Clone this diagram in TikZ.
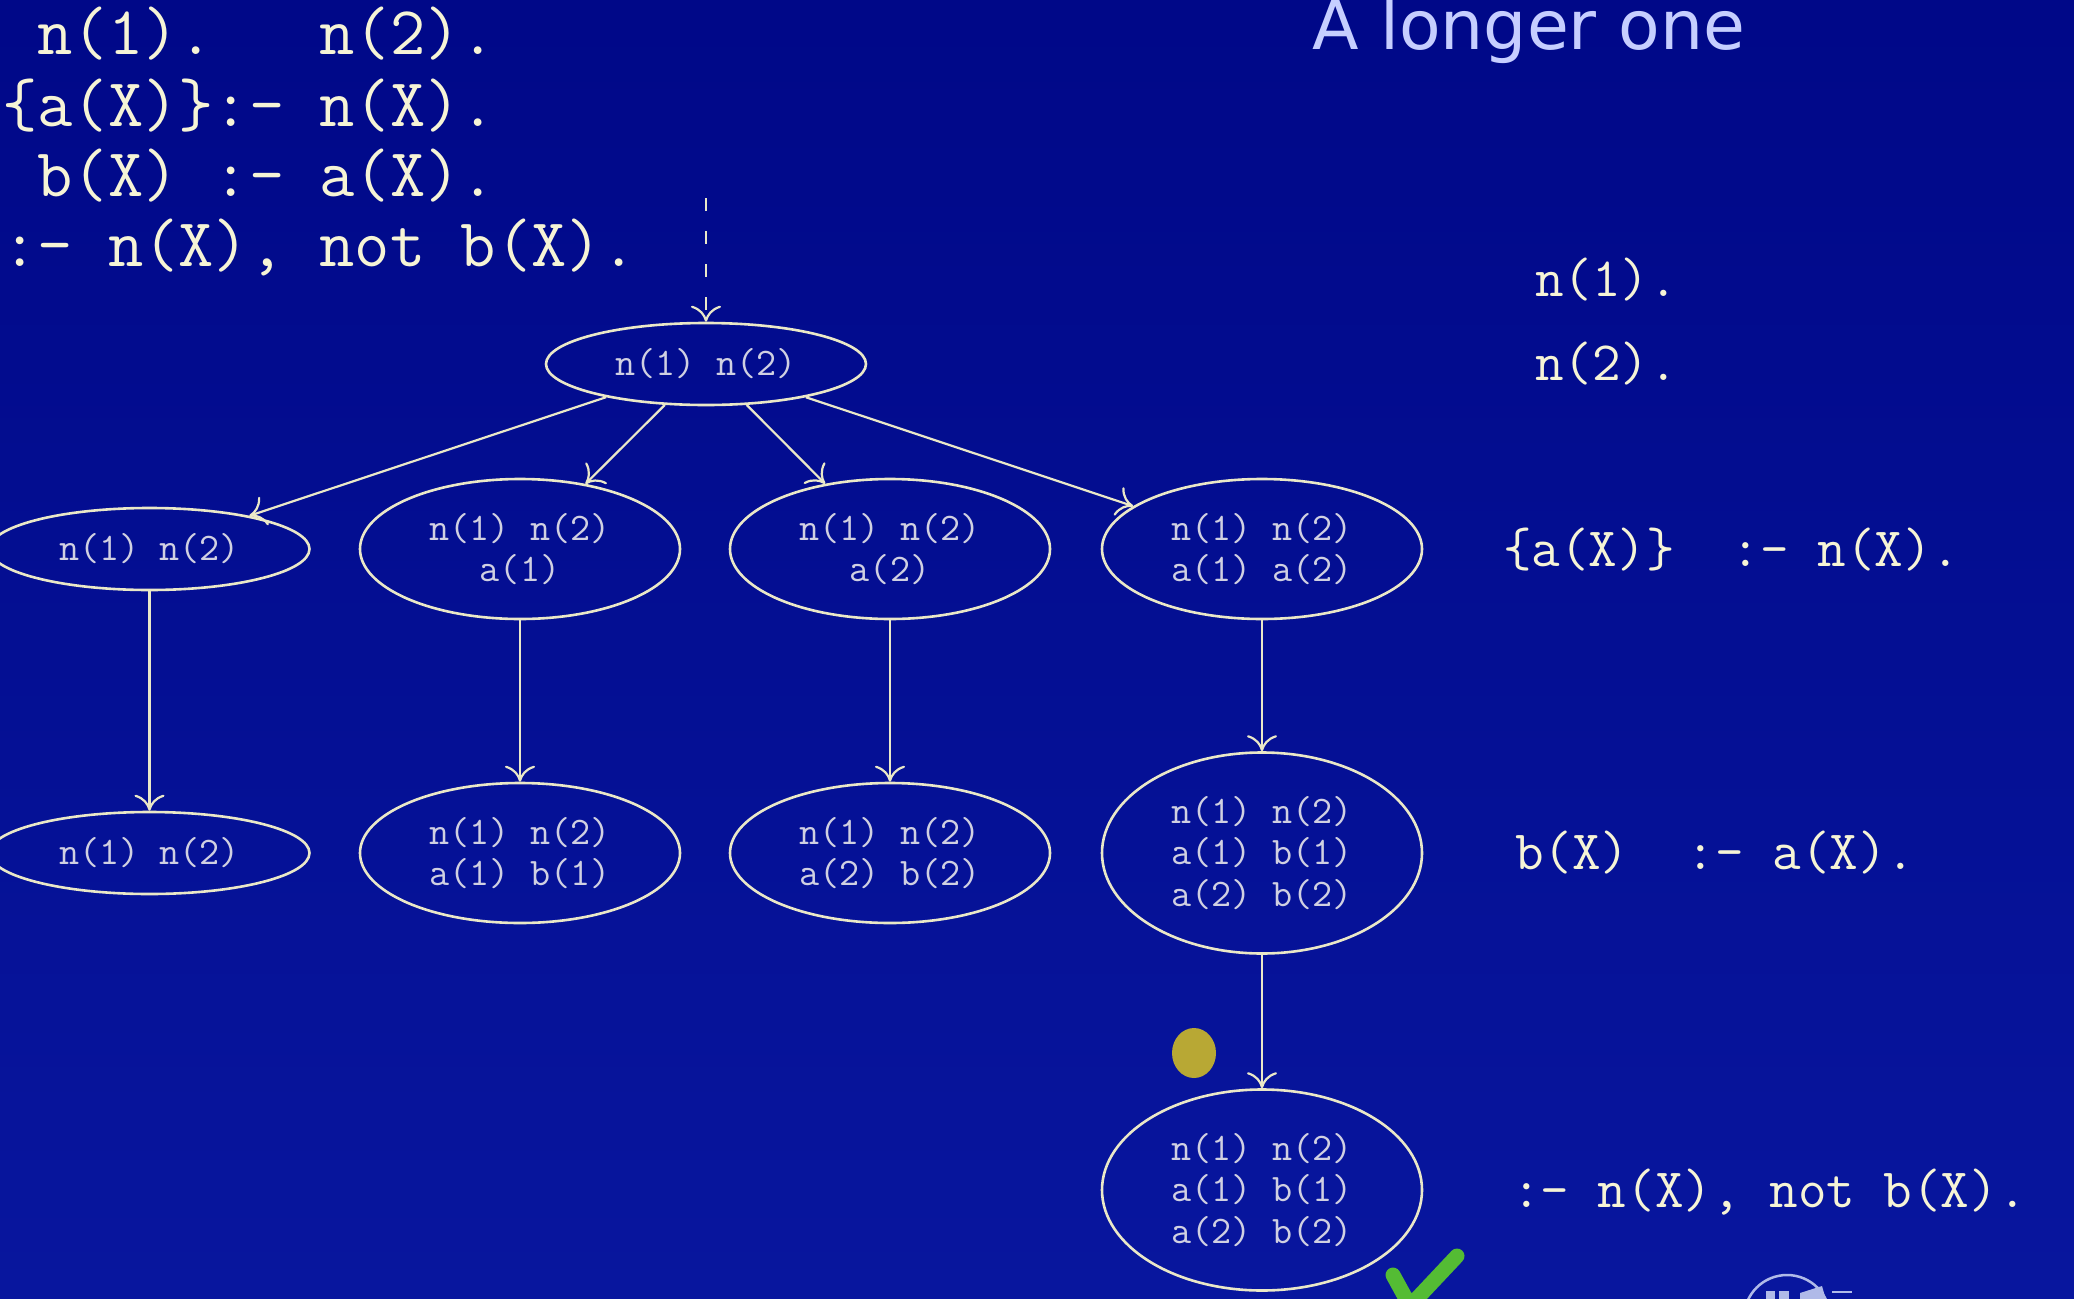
\documentclass[tikz,border=0pt]{standalone}
\usepackage{fontspec}
\newfontfamily\titlefont{DejaVu Sans}
\usetikzlibrary{shapes.geometric,arrows.meta}

\definecolor{bgtop}{RGB}{0,8,136}
\definecolor{bgbot}{RGB}{8,22,158}
\definecolor{cream}{RGB}{246,244,214}
\definecolor{nodetxt}{RGB}{208,208,226}
\definecolor{edgecol}{RGB}{234,232,200}
\definecolor{titlecol}{RGB}{198,206,255}
\definecolor{dotcol}{RGB}{184,168,52}
\definecolor{tickcol}{RGB}{84,188,52}
\definecolor{logocol}{RGB}{176,186,232}

\begin{document}
\begin{tikzpicture}[x=1pt,y=-1pt,
  state/.style={ellipse, draw=edgecol, line width=2.6pt, minimum width=320pt,
    inner sep=0pt, text=nodetxt, align=center,
    font=\ttfamily\fontsize{39}{41.7}\selectfont},
  one/.style={state, minimum height=82pt},
  two/.style={state, minimum height=140pt},
  three/.style={state, minimum height=201pt},
  link/.style={draw=edgecol, line width=2.2pt,
    -{Computer Modern Rightarrow[length=16pt,width=30pt]}},
  rule/.style={anchor=base west, inner sep=0pt, text=cream,
    font=\ttfamily\fontsize{68.5}{68.5}\selectfont},
  side/.style={anchor=base west, inner sep=0pt, text=cream,
    font=\ttfamily\fontsize{55.5}{55.5}\selectfont},
]
% canvas
\shade[top color=bgtop, bottom color=bgbot] (0,0) rectangle (2074,1298);
\useasboundingbox (0,0) rectangle (2074,1298);
\clip (0,0) rectangle (2074,1298);

% title
\node[anchor=base west, inner sep=0pt, text=titlecol,
      font=\titlefont\fontsize{68}{68}\selectfont] (title) at (1312,49) {A longer one};

% program, top left
\node[rule] (p1) at (2,55)  {~n(1).~~~n(2).};
\node[rule] (p2) at (2,126) {\{a(X)\}:-~n(X).};
\node[rule] (p3) at (2,196) {~b(X)~:-~a(X).};
\node[rule] (p4) at (2,266) {:-~n(X),~not~b(X).};

% program, one rule per level on the right
\node[side] (r1) at (1535,296)  {n(1).};
\node[side] (r2) at (1535,380)  {n(2).};
\node[side] (r3) at (1503,566)  {\{a(X)\}~~:-~n(X).};
\node[side] (r4) at (1515,869)  {b(X)~~:-~a(X).};
\node[side] (r5) at (1512,1207) {:-~n(X),~not~b(X).};

% search tree
\coordinate (entry) at (706,198);
\node[one] (root) at (706,364) {n(1) n(2)};

\node[one]   (a1) at (149.5,549) {n(1) n(2)};
\node[two]   (b1) at (520,549)   {n(1) n(2)\\a(1)};
\node[two]   (c1) at (890,549)   {n(1) n(2)\\a(2)};
\node[two]   (d1) at (1262,549)  {n(1) n(2)\\a(1) a(2)};

\node[one]   (a2) at (149.5,853) {n(1) n(2)};
\node[two]   (b2) at (520,853)   {n(1) n(2)\\a(1) b(1)};
\node[two]   (c2) at (890,853)   {n(1) n(2)\\a(2) b(2)};
\node[three] (d2) at (1262,853)  {n(1) n(2)\\a(1) b(1)\\a(2) b(2)};

\node[three] (d3) at (1262,1190) {n(1) n(2)\\a(1) b(1)\\a(2) b(2)};

\draw[link, dash pattern=on 13pt off 20pt] (entry) -- (root);
\draw[link] (root) -- (a1);
\draw[link] (root) -- (b1);
\draw[link] (root) -- (c1);
\draw[link] (root) -- (d1);
\draw[link] (a1) -- (a2);
\draw[link] (b1) -- (b2);
\draw[link] (c1) -- (c2);
\draw[link] (d1) -- (d2);
\draw[link] (d2) -- (d3);

% pointer highlight
\fill[dotcol] (1194,1053) ellipse [x radius=22, y radius=25];

% tick mark
\draw[tickcol, line width=15pt, line cap=round, line join=round]
  (1393,1275) -- (1410,1306) -- (1457,1256);

% corner logo
\draw[logocol, line width=2.5pt] (1787,1318) circle (43);
\fill[logocol] (1766,1291) rectangle (1775,1300);
\fill[logocol] (1779,1291) rectangle (1789,1300);
\fill[logocol] (1800,1293) -- (1822,1286) -- (1826,1300) -- (1800,1300) -- cycle;
\draw[logocol, line width=2pt] (1832,1292) -- (1852,1292);
\end{tikzpicture}
\end{document}
